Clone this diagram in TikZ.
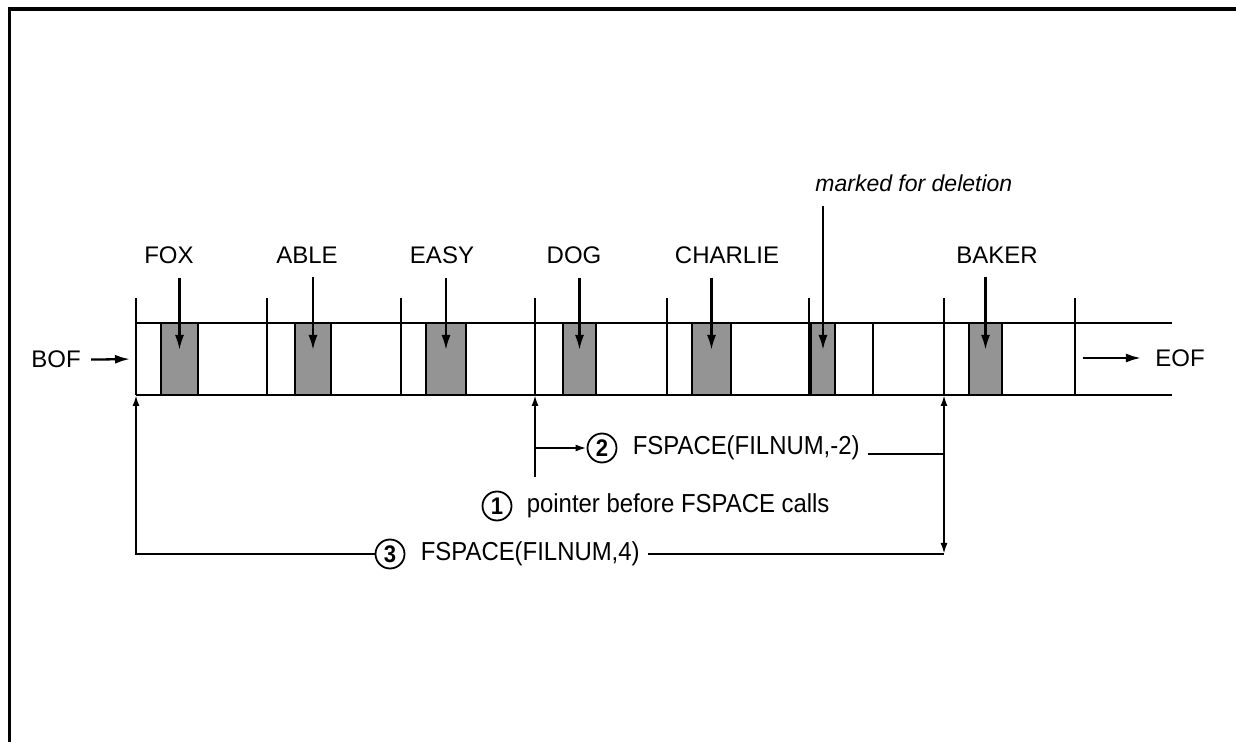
\documentclass[tikz,border=0pt]{standalone}
\usepackage{fontspec}
\setmainfont{Liberation Sans}
\newfontfamily\narrowfont[FakeStretch=0.92]{Liberation Sans}
\usetikzlibrary{positioning,arrows.meta,calc}
\tikzset{rec/.style={draw, line width=1pt, fill=black!42, minimum width=#1, minimum height=36pt, inner sep=0, outer sep=0}}
\tikzset{lbl/.style={font=\fontsize{12}{14}\selectfont, inner sep=0, anchor=base}}
\tikzset{call/.style={font=\narrowfont\fontsize{13}{15}\selectfont, inner sep=0}}
\tikzset{num/.style={draw, circle, line width=0.9pt, minimum size=14.5pt, inner sep=0, font=\narrowfont\bfseries\fontsize{12}{14}\selectfont}}
\tikzset{ptr/.style={draw, line width=1.15pt, shorten <=6.5pt, shorten >=4.5pt, -{Latex[length=7.5pt,width=4.5pt]}}}
\tikzset{mv/.style={draw, line width=1pt, -{Latex[length=5.5pt,width=3.5pt]}}}
\tikzset{sep/.style={draw, line width=1pt}}

\begin{document}
\begin{tikzpicture}[x=0.5pt, y=-0.5pt]
	\useasboundingbox (0,0) rectangle (1236,742);
	% frame
	\draw[line width=1.75pt] (9.5,742) -- (9.5,9) -- (1236,9);

	% the file
	\draw[sep] (136,323) -- (1172,323);
	\draw[sep] (136,395) -- (1172,395);
	\foreach \x in {136,267,401,535,667,809,944,1075}
		\draw[sep] (\x,298) -- (\x,395);
	\draw[sep] (873,323) -- (873,395);

	\node[rec=18.5pt] (fox) at (179.5,359) {};
	\node[rec=18pt] (able) at (313,359) {};
	\node[rec=20pt] (easy) at (446,359) {};
	\node[rec=16.5pt] (dog) at (579.5,359) {};
	\node[rec=19.5pt] (charlie) at (711.5,359) {};
	\node[rec=12pt] (del) at (823,359) {};
	\node[rec=16.5pt] (baker) at (985.5,359) {};

	\node[lbl] (lfox) at (169,264) {FOX};
	\node[lbl] (lable) at (307,264) {ABLE};
	\node[lbl] (leasy) at (442,264) {EASY};
	\node[lbl] (ldog) at (574,264) {DOG};
	\node[lbl] (lcharlie) at (727,264) {CHARLIE};
	\node[lbl] (lbaker) at (997,264) {BAKER};
	\node[lbl, anchor=base west, font=\itshape\fontsize{11.5}{14}\selectfont] (ldel) at (815,192) {marked for deletion};

	\draw[ptr] (lfox.south -| fox) -- (fox.center);
	\draw[ptr] (lable.south -| able) -- (able.center);
	\draw[ptr] (leasy.south -| easy) -- (easy.center);
	\draw[ptr] (ldog.south -| dog) -- (dog.center);
	\draw[ptr] (lcharlie.south -| charlie) -- (charlie.center);
	\draw[ptr] (ldel.south -| del) -- (del.center);
	\draw[ptr] (lbaker.south -| baker) -- (baker.center);

	% ends of the file
	\node[lbl] (bof) at (56,368) {BOF};
	\node[lbl] (eof) at (1180,367) {EOF};
	\coordinate (sL) at (136,359);
	\coordinate (sR) at (1075,358);
	\draw[ptr, shorten <=5pt, shorten >=3pt] (bof.east) -- (sL);
	\draw[ptr, shorten <=4pt, shorten >=7pt] (sR) -- (eof.west |- sR);

	% pointer moves
	\coordinate (s0) at (136,395);
	\coordinate (p0) at (535,395);
	\coordinate (p0b) at (535,477);
	\coordinate (p2) at (944,395);
	\coordinate (p2m) at (944,454);
	\coordinate (p3) at (944,554);

	\node[num] (n1) at (497,506) {1};
	\node[call, right=7pt of n1] (c1) {pointer before FSPACE calls};
	\node[num] (n2) at (602,448) {2};
	\node[call, right=7.5pt of n2] (c2) {FSPACE(FILNUM,-2)};
	\coordinate[right=4pt of c2] (c2e);
	\node[num] (n3) at (390,554) {3};
	\node[call, right=7.5pt of n3] (c3) {FSPACE(FILNUM,4)};
	\coordinate[right=4pt of c3] (c3e);

	\draw[mv] (p0b) -- (p0);
	\draw[mv] (p0b |- n2) -- (n2);
	\draw[sep] (c2e |- p2m) -- (p2m);
	\draw[mv] (p2m) -- (p2);
	\draw[mv] (p2m) -- (p3);
	\draw[sep] (c3e |- p3) -- (p3);
	\draw[mv] (n3.west) -| (s0);
\end{tikzpicture}
\end{document}
